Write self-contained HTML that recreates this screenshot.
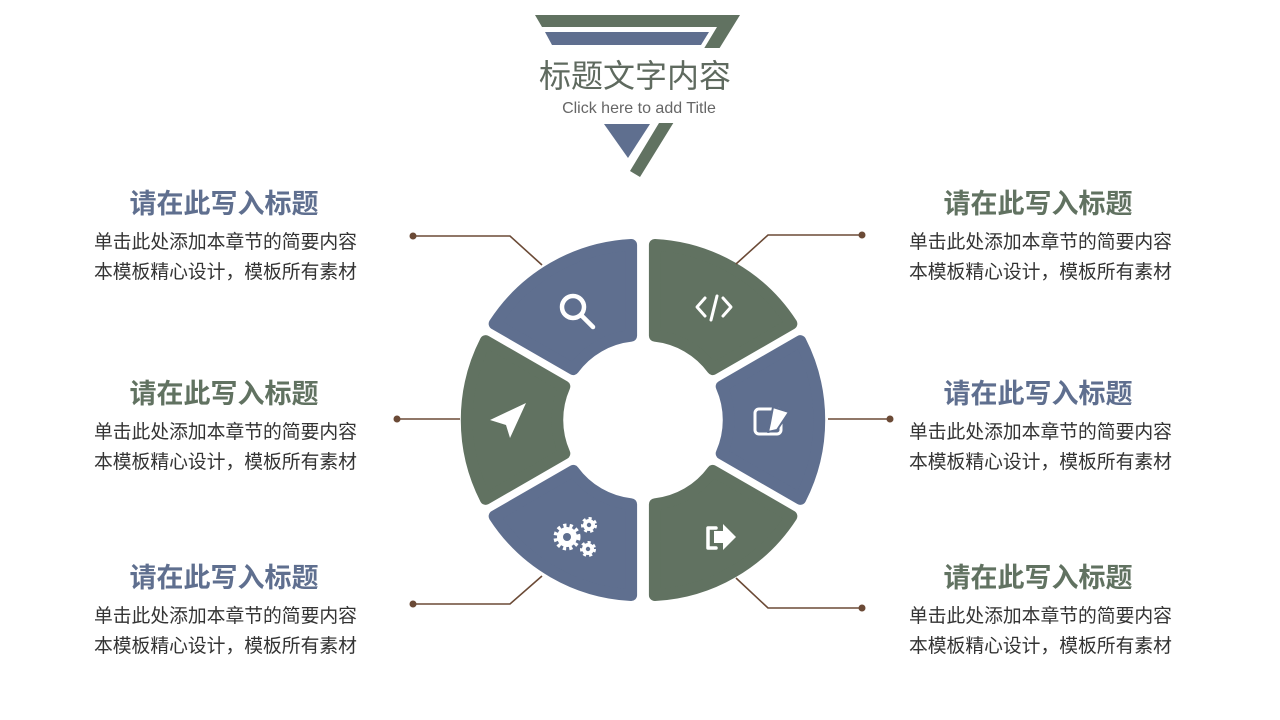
<!DOCTYPE html>
<html><head><meta charset="utf-8"><style>
body{margin:0;width:1280px;height:720px;background:#fff;overflow:hidden;position:relative;font-family:"Liberation Sans","Noto Sans CJK SC",sans-serif}
.t{position:absolute;white-space:nowrap}
.h{font-size:27px;font-weight:bold;width:300px;text-align:center;line-height:32px}
.b{font-size:18.8px;color:#333;line-height:30px}
.blue{color:#5f6f8f}.green{color:#617261}
</style></head><body>
<svg width="1280" height="720" style="position:absolute;left:0;top:0">
<polygon points="535,15 740,15 640,177 630,171 717,27 542,27" fill="#617261"/>
<polygon points="545,32 709,32 701,45 552,45" fill="#5f6f8f"/>
<polygon points="604,124 650,124 628,158" fill="#5f6f8f"/>
<rect x="520" y="48" width="240" height="75" fill="#fff"/>
<g stroke-width="12" stroke-linejoin="round" transform="translate(643,420) scale(0.985) translate(-643,-420)">
<path d="M790.7,324.3 A176,176 0 0 0 652,244.2 L652,336.5 A84,84 0 0 1 710.8,370.4 Z" fill="#617261" stroke="#617261" transform="translate(3,-2)"/>
<path d="M634,244.2 A176,176 0 0 0 495.3,324.3 L575.2,370.4 A84,84 0 0 1 634,336.5 Z" fill="#5f6f8f" stroke="#5f6f8f" transform="translate(-3,-2)"/>
<path d="M486.3,339.9 A176,176 0 0 0 486.3,500.1 L566.2,454 A84,84 0 0 1 566.2,386 Z" fill="#617261" stroke="#617261" transform="translate(-3,0)"/>
<path d="M495.3,515.7 A176,176 0 0 0 634,595.8 L634,503.5 A84,84 0 0 1 575.2,469.6 Z" fill="#5f6f8f" stroke="#5f6f8f" transform="translate(-3,2)"/>
<path d="M652,595.8 A176,176 0 0 0 790.7,515.7 L710.8,469.6 A84,84 0 0 1 652,503.5 Z" fill="#617261" stroke="#617261" transform="translate(3,2)"/>
<path d="M799.7,500.1 A176,176 0 0 0 799.7,339.9 L719.8,386 A84,84 0 0 1 719.8,454 Z" fill="#5f6f8f" stroke="#5f6f8f" transform="translate(3,0)"/>
</g>
<g stroke="#6b4a36" stroke-width="1.6" fill="none">
<polyline points="413,236 510,236 542,265"/>
<polyline points="862,235 768,235 736,264"/>
<polyline points="397,419 460,419"/>
<polyline points="828,419 890,419"/>
<polyline points="413,604 510,604 542,576"/>
<polyline points="862,608 768,608 736,578"/>
</g>
<g fill="#6b4a36">
<circle cx="413" cy="236" r="3.5"/><circle cx="862" cy="235" r="3.5"/>
<circle cx="397" cy="419" r="3.5"/><circle cx="890" cy="419" r="3.5"/>
<circle cx="413" cy="604" r="3.5"/><circle cx="862" cy="608" r="3.5"/>
</g>
<g fill="none" stroke="#fff" stroke-width="4.5" stroke-linecap="round" stroke-linejoin="round">
<circle cx="573" cy="307" r="11"/><line x1="581" y1="315" x2="593" y2="327"/>
<polyline points="705,298 697,307 705,316" stroke-width="3"/><polyline points="723,298 731,307 723,316" stroke-width="3"/><line x1="717" y1="296" x2="711" y2="320" stroke-width="3"/>
<rect x="755" y="409" width="26" height="25" rx="4" stroke-width="3"/>
<path d="M773,407 L789,412 L777,430 L768,432 L770,423 Z" fill="#fff" stroke="#5f6f8f" stroke-width="2"/>
<path d="M716,528 h-8 v20 h8" stroke-width="3.5"/>
</g>
<path d="M490,420 L526,403 L510,438 L506,425 Z" fill="#fff"/>
<path d="M714,531 h9 v-7 l13,13 -13,13 v-7 h-9 Z" fill="#fff"/>
<g stroke="#fff" fill="none" stroke-dasharray="3 3">
<circle cx="567" cy="537" r="11" stroke-width="5"/>
<circle cx="589" cy="525" r="6.5" stroke-width="3"/>
<circle cx="588" cy="549" r="6.5" stroke-width="3"/>
</g>
<g fill="#fff">
<circle cx="567" cy="537" r="10"/><circle cx="589" cy="525" r="6"/><circle cx="588" cy="549" r="6"/>
</g>
<g fill="#5f6f8f"><circle cx="567" cy="537" r="4"/><circle cx="589" cy="525" r="2.2"/><circle cx="588" cy="549" r="2.2"/></g>
</svg>
<div class="t" style="left:0;width:1270px;top:51px;text-align:center;font-size:32px;color:#5f6a5f">标题文字内容</div>
<div class="t" style="left:0;width:1278px;top:100px;text-align:center;font-size:16px;color:#666">Click here to add Title</div>

<div class="t h blue" style="left:74px;top:188px">请在此写入标题</div>
<div class="t b" style="left:94px;top:227px">单击此处添加本章节的简要内容<br>本模板精心设计，模板所有素材</div>
<div class="t h green" style="left:74px;top:378px">请在此写入标题</div>
<div class="t b" style="left:94px;top:417px">单击此处添加本章节的简要内容<br>本模板精心设计，模板所有素材</div>
<div class="t h blue" style="left:74px;top:562px">请在此写入标题</div>
<div class="t b" style="left:94px;top:601px">单击此处添加本章节的简要内容<br>本模板精心设计，模板所有素材</div>

<div class="t h green" style="left:888px;top:188px">请在此写入标题</div>
<div class="t b" style="left:909px;top:227px">单击此处添加本章节的简要内容<br>本模板精心设计，模板所有素材</div>
<div class="t h blue" style="left:888px;top:378px">请在此写入标题</div>
<div class="t b" style="left:909px;top:417px">单击此处添加本章节的简要内容<br>本模板精心设计，模板所有素材</div>
<div class="t h green" style="left:888px;top:562px">请在此写入标题</div>
<div class="t b" style="left:909px;top:601px">单击此处添加本章节的简要内容<br>本模板精心设计，模板所有素材</div>
</body></html>
